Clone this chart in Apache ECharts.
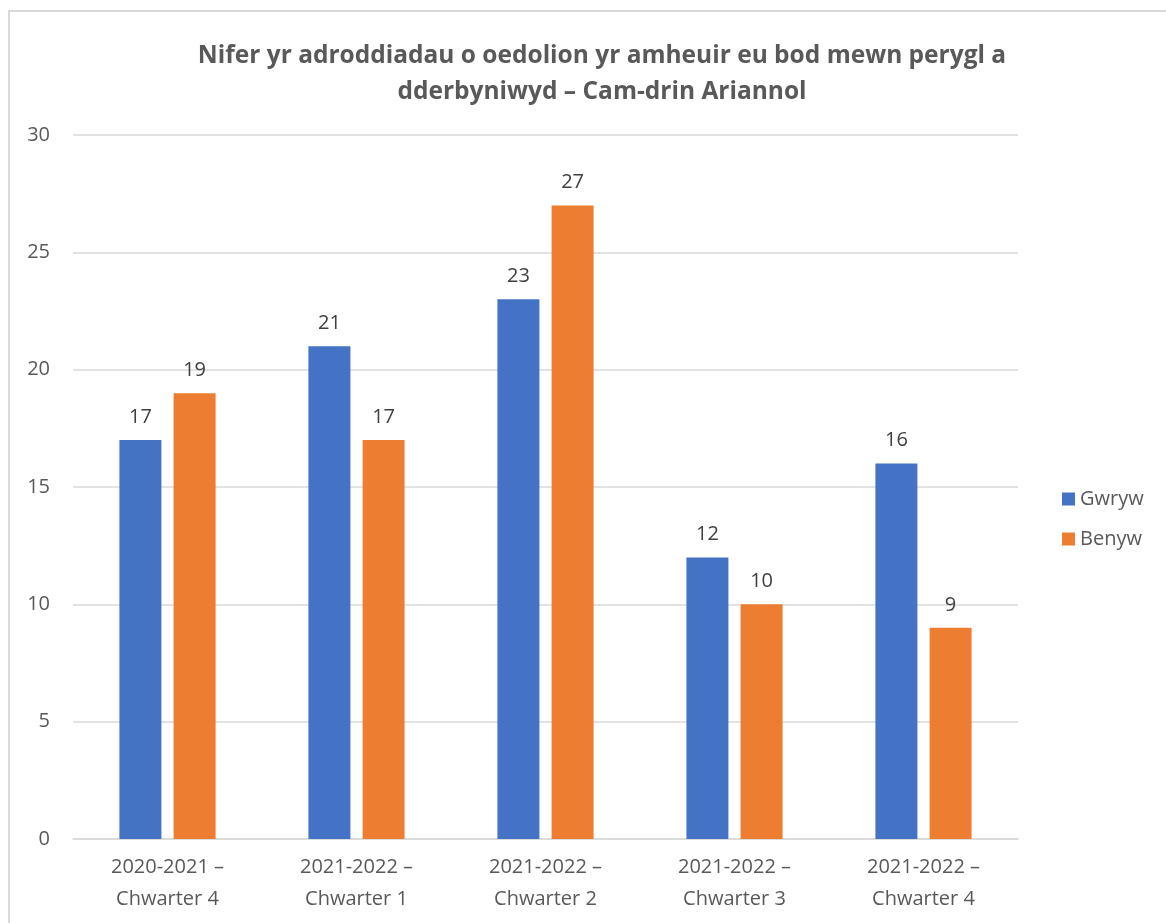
<!DOCTYPE html>
<html>
<head>
<meta charset="utf-8">
<script src="https://cdn.jsdelivr.net/npm/echarts@6/dist/echarts.min.js"></script>
<style>
  html, body { margin: 0; padding: 0; background: #fff; }
  #frame { position: absolute; left: 8px; top: 10px; width: 1200px; height: 950px;
           border-left: 2px solid #d9d9d9; border-top: 2px solid #d9d9d9; }
  #chart { position: absolute; left: 0; top: 0; width: 1166px; height: 923px; }
</style>
</head>
<body>
<div id="frame"></div>
<div id="chart"></div>
<script>
const chartTitle = 'Nifer yr adroddiadau o oedolion yr amheuir eu bod mewn perygl a\ndderbyniwyd – Cam-drin Ariannol';
const categories = ['2020-2021 –\nChwarter 4', '2021-2022 –\nChwarter 1', '2021-2022 –\nChwarter 2', '2021-2022 –\nChwarter 3', '2021-2022 –\nChwarter 4'];
const gwryw = [17, 21, 23, 12, 16];
const benyw = [19, 17, 27, 10, 9];
const seriesNames = ['Gwryw', 'Benyw'];

const font = '"Open Sans", "Liberation Sans", sans-serif';
const myChart = echarts.init(document.getElementById('chart'));

const labelStyle = {
  show: true,
  position: 'top',
  distance: 13,
  color: '#404040',
  fontSize: 20,
  fontFamily: font
};

const option = {
  animation: false,
  title: {
    text: chartTitle,
    left: 597,
    textAlign: 'center',
    top: 33,
    textStyle: {
      fontFamily: font,
      fontSize: 24.5,
      fontWeight: 'bold',
      color: '#595959',
      lineHeight: 36
    }
  },
  legend: {
    orient: 'vertical',
    left: 1057,
    top: 484,
    itemWidth: 13,
    itemHeight: 13,
    itemGap: 20,
    icon: 'rect',
    data: seriesNames,
    textStyle: { fontFamily: font, fontSize: 20, color: '#595959' }
  },
  grid: { left: 73, right: 148, top: 135, bottom: 84, containLabel: false },
  xAxis: {
    type: 'category',
    data: categories,
    axisLine: { lineStyle: { color: '#d9d9d9', width: 1.5 } },
    axisTick: { show: false },
    axisLabel: {
      color: '#595959',
      fontSize: 20,
      fontFamily: font,
      lineHeight: 32,
      margin: 12
    }
  },
  yAxis: {
    type: 'value',
    min: 0,
    max: 30,
    interval: 5,
    axisLine: { show: false },
    axisTick: { show: false },
    splitLine: { lineStyle: { color: '#d9d9d9', width: 1.5 } },
    axisLabel: { color: '#595959', fontSize: 20, fontFamily: font, margin: 23 }
  },
  series: [
    {
      name: seriesNames[0],
      type: 'bar',
      data: gwryw,
      barWidth: 42,
      barGap: '29%',
      itemStyle: { color: '#4472c4' },
      label: labelStyle
    },
    {
      name: seriesNames[1],
      type: 'bar',
      data: benyw,
      barWidth: 42,
      barGap: '29%',
      itemStyle: { color: '#ed7d31' },
      label: labelStyle
    }
  ]
};
myChart.setOption(option);
</script>
</body>
</html>
